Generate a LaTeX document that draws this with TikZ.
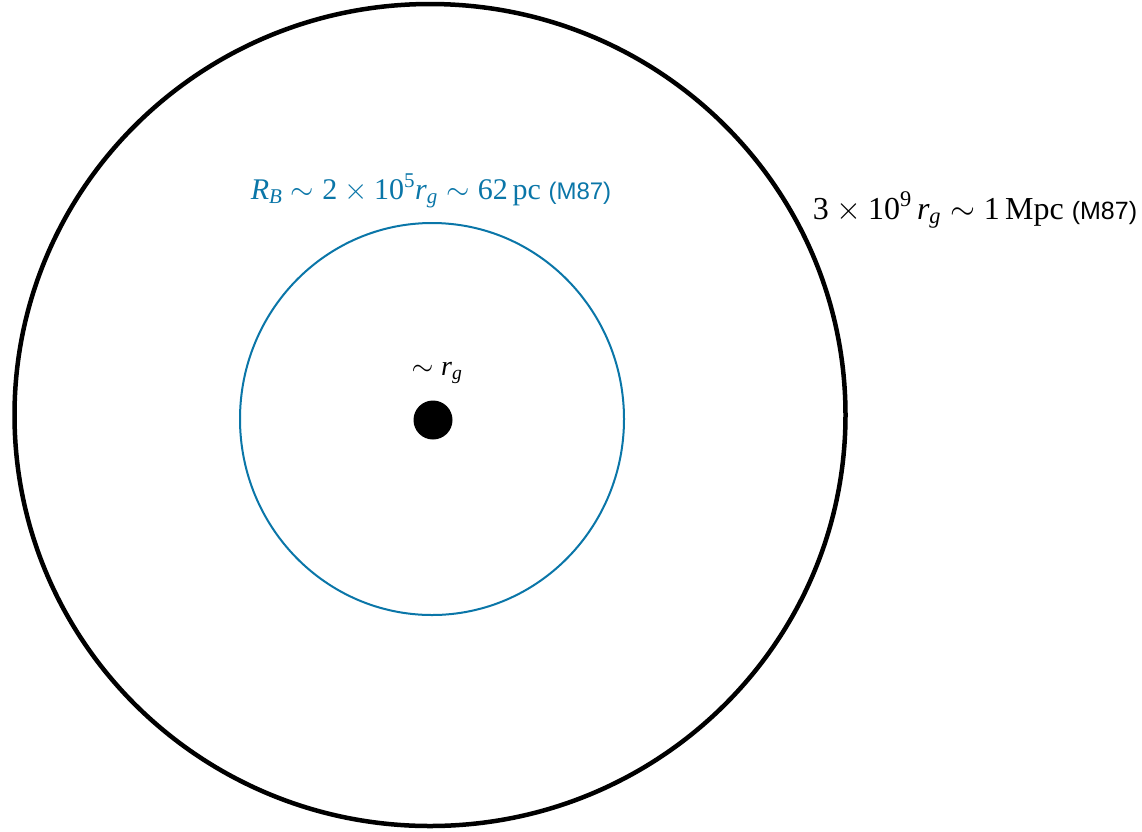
\RequirePackage{fix-cm}
\documentclass[tikz,border=0pt]{standalone}
\usepackage{amsmath}
\usepackage{fontspec}
\setmainfont{Liberation Serif}
\newfontfamily\labelsans{Liberation Sans}
\usetikzlibrary{shapes.geometric}
\definecolor{rbblue}{RGB}{10,118,168}
\newcommand{\vi}[1]{\textit{#1}}
\begin{document}
\begin{tikzpicture}[x=1pt,y=-1pt,
  lbl/.style={inner sep=0pt, anchor=base},
  ring/.style={ellipse, inner sep=0pt, outer sep=0pt}]
\useasboundingbox (0,0) rectangle (1142,831);
\fill[white] (0,0) rectangle (1142,831);
% outer circle
\node[ring, draw=black, line width=4.5pt, minimum width=831pt, minimum height=822pt] (outer) at (430,415) {};
% Bondi circle
\node[ring, draw=rbblue, line width=2pt, minimum width=384pt, minimum height=392pt] (bondi) at (432,419) {};
% black hole
\node[circle, fill=black, inner sep=0pt, minimum size=39pt] (bh) at (433,420) {};
% labels
\node[lbl, text=rbblue, font=\fontsize{30}{36}\selectfont] (blab) at (431,199)
  {$\vi{R}_{\vi{B}}\sim \text{2}\times \text{10}^{\text{5}}\vi{r}_{\vi{g}}\sim \text{62\,pc}$ {\labelsans\fontsize{24}{29}\selectfont (M87)}};
\node[lbl, font=\fontsize{32}{38}\selectfont] (olab) at (975,219)
  {$\text{3}\times \text{10}^{\text{9}}\,\vi{r}_{\vi{g}}\sim \text{1\,Mpc}$ {\labelsans\fontsize{25}{30}\selectfont (M87)}};
\node[lbl, font=\fontsize{28}{34}\selectfont] (glab) at (437,375)
  {$\sim \vi{r}_{\vi{g}}$};
\end{tikzpicture}
\end{document}
